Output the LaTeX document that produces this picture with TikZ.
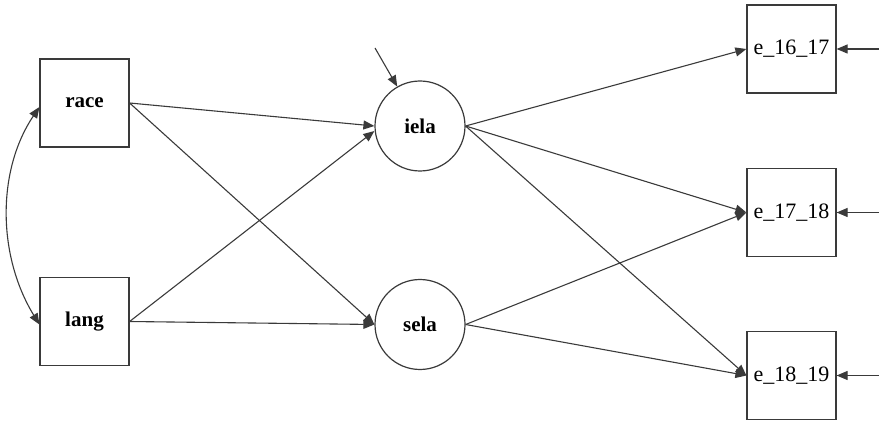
\documentclass[tikz,border=0pt]{standalone}
\usepackage{fontspec}
\setmainfont{Liberation Serif}
\usetikzlibrary{arrows.meta}
\definecolor{edgegray}{HTML}{3A3A3A}
\begin{document}
\begin{tikzpicture}[x=1pt,y=-1pt,
  every node/.style={inner sep=0pt, font=\fontsize{22}{25}\selectfont},
  obsbox/.style={draw=edgegray, line width=1.2pt, minimum width=89pt, minimum height=88pt},
  latent/.style={draw=edgegray, line width=1.2pt, circle, minimum size=90pt, font=\fontsize{21}{24}\selectfont\bfseries},
  path/.style={draw=edgegray, line width=1.1pt, -{Triangle[length=11pt,width=9pt]}},
  covpath/.style={draw=edgegray, line width=1.1pt, {Triangle[length=11pt,width=9pt]}-{Triangle[length=11pt,width=9pt]}}
]
\useasboundingbox (0,0) rectangle (879,422);

% exogenous observed variables
\node[obsbox, font=\fontsize{21}{24}\selectfont\bfseries] (race) at (84.5,103) {race};
\node[obsbox, font=\fontsize{21}{24}\selectfont\bfseries] (lang) at (84.5,321.5) {lang};

% latent variables
\node[latent] (iela) at (420,126) {iela};
\node[latent] (sela) at (420,324.5) {sela};

% outcome indicators
\node[obsbox] (e1) at (791.5,49) {e\_16\_17};
\node[obsbox] (e2) at (791.5,212.5) {e\_17\_18};
\node[obsbox] (e3) at (791.5,375.5) {e\_18\_19};

% free ends of the error arrows
\coordinate (dI) at (375,48);
\coordinate (d1) at (879,49);
\coordinate (d2) at (879,212.5);
\coordinate (d3) at (879,375.5);

% covariance between race and lang
\draw[covpath] ([yshift=-4pt]race.west) .. controls (-3,170) and (-3,255) .. ([yshift=-3pt]lang.west);

% structural paths
\draw[path] (race.east) -- (iela.west);
\draw[path] (race.east) -- (sela.west);
\draw[path] (lang.east) -- ([yshift=-5pt]iela.west);
\draw[path] (lang.east) -- (sela.west);

\draw[path] (iela.east) -- (e1.west);
\draw[path] (iela.east) -- (e2.west);
\draw[path] (iela.east) -- (e3.west);
\draw[path] (sela.east) -- (e2.west);
\draw[path] (sela.east) -- (e3.west);

% disturbances and residuals
\draw[path] (dI) -- (iela.120);
\draw[path] (d1) -- (e1.east);
\draw[path] (d2) -- (e2.east);
\draw[path] (d3) -- (e3.east);
\end{tikzpicture}
\end{document}
